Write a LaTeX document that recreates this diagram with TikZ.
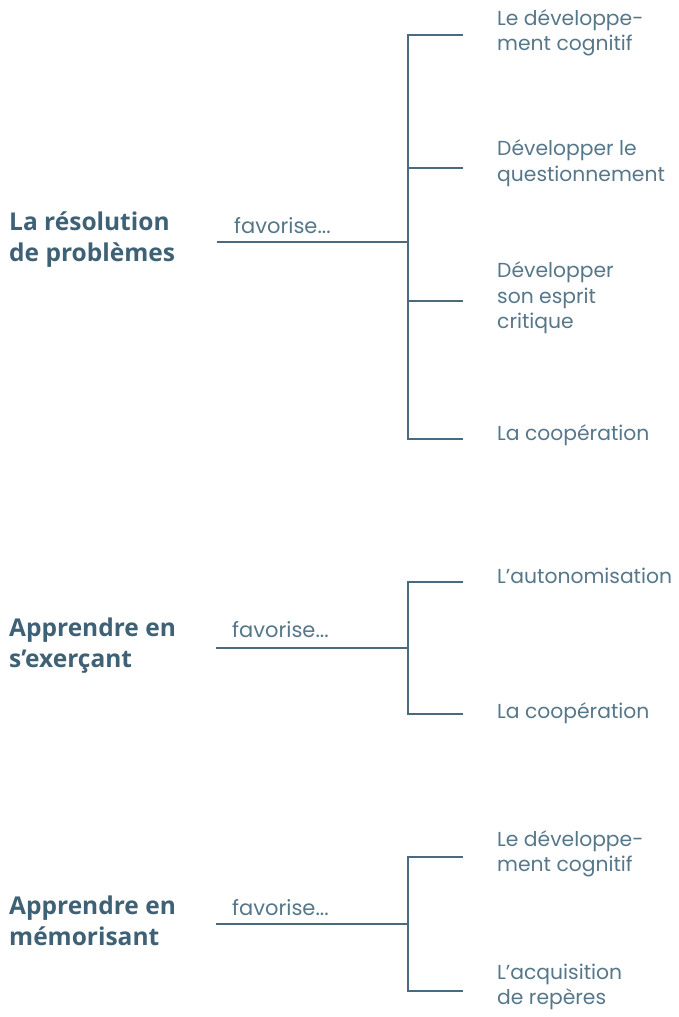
\documentclass[tikz,border=0pt]{standalone}
\usepackage{fontspec}
\setmainfont{Poppins}
\newfontfamily\titlefont{Open Sans}
\definecolor{titlec}{HTML}{3E6175}
\definecolor{textc}{HTML}{56778A}
\definecolor{linec}{HTML}{4A6A7F}
\tikzset{
  ttl/.style={anchor=west,inner sep=0pt,align=left,text=titlec,font=\titlefont\bfseries\fontsize{24.5}{31}\selectfont},
  fav/.style={anchor=west,inner sep=0pt,text=textc,font=\fontsize{21}{22}\selectfont},
  item/.style={anchor=west,inner sep=0pt,align=left,text=textc,font=\fontsize{20.3}{25.5}\selectfont},
  conn/.style={draw=linec,line width=2.8pt}
}
\begin{document}
\begin{tikzpicture}[x=1pt,y=-1pt]
\useasboundingbox (0,0) rectangle (678,1017);
% group 1
\node[ttl] (t1) at (9,240) {La résolution\\de problèmes};
\node[fav] (f1) at (234,226) {favorise...};
\coordinate (h1) at (217,242);
\coordinate (j1) at (408,242);
\coordinate (v1a) at (408,35);
\coordinate (v1b) at (408,168);
\coordinate (v1c) at (408,301);
\coordinate (v1d) at (408,439);
\coordinate (e1a) at (463,35);
\coordinate (e1b) at (463,168);
\coordinate (e1c) at (463,301);
\coordinate (e1d) at (463,439);
\draw[conn] (h1) -- (j1);
\draw[conn] (e1a) -- (v1a) -- (v1d) -- (e1d);
\draw[conn] (v1b) -- (e1b);
\draw[conn] (v1c) -- (e1c);
\node[item] (i1a) at (497,33) {Le développe-\\ment cognitif};
\node[item] (i1b) at (497,163) {Développer le\\questionnement};
\node[item] (i1c) at (497,298) {Développer\\son esprit\\critique};
\node[item] (i1d) at (497,435) {La coopération};
% group 2
\node[ttl] (t2) at (9,646) {Apprendre en\\s’exerçant};
\node[fav] (f2) at (232,630) {favorise...};
\coordinate (h2) at (216,648);
\coordinate (j2) at (408,648);
\coordinate (v2a) at (408,582);
\coordinate (v2b) at (408,714);
\coordinate (e2a) at (463,582);
\coordinate (e2b) at (463,714);
\draw[conn] (h2) -- (j2);
\draw[conn] (e2a) -- (v2a) -- (v2b) -- (e2b);
\node[item] (i2a) at (497,576) {L’autonomisation};
\node[item] (i2b) at (497,713) {La coopération};
% group 3
\node[ttl] (t3) at (9,921) {Apprendre en\\mémorisant};
\node[fav] (f3) at (232,908) {favorise...};
\coordinate (h3) at (216,924);
\coordinate (j3) at (408,924);
\coordinate (v3a) at (408,857);
\coordinate (v3b) at (408,991);
\coordinate (e3a) at (463,857);
\coordinate (e3b) at (463,991);
\draw[conn] (h3) -- (j3);
\draw[conn] (e3a) -- (v3a) -- (v3b) -- (e3b);
\node[item] (i3a) at (497,854) {Le développe-\\ment cognitif};
\node[item] (i3b) at (497,987) {L’acquisition\\de repères};
\end{tikzpicture}
\end{document}
